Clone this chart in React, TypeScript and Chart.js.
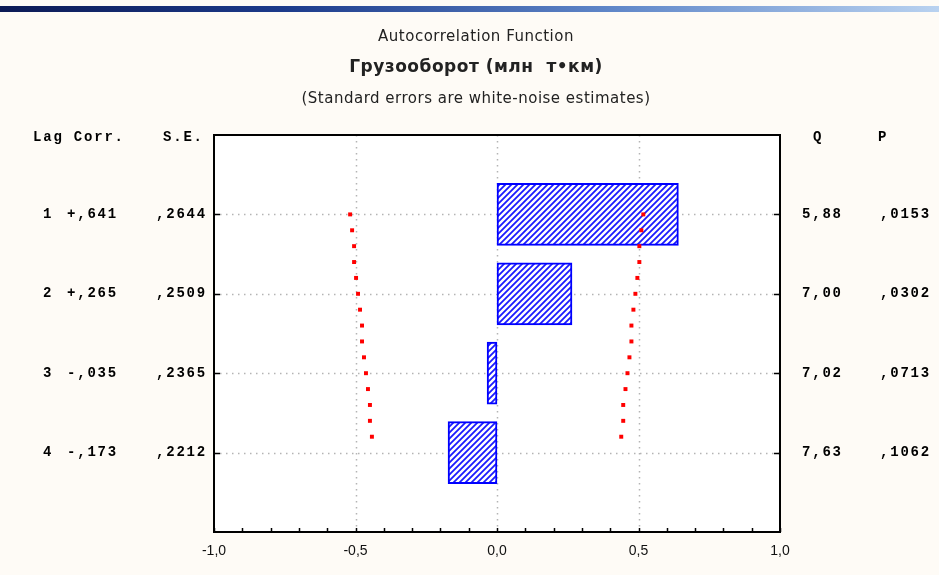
import React, { useEffect, useRef } from "react";
import { Chart, registerables } from "chart.js";
Chart.register(...registerables);

const lags = [1, 2, 3, 4];
const corr = [0.641, 0.265, -0.035, -0.173];
const stdErr = [0.2644, 0.2509, 0.2365, 0.2212];
const qStat = [5.88, 7.0, 7.02, 7.63];
const pValue = [0.0153, 0.0302, 0.0713, 0.1062];
const xTicks = [-1, -0.5, 0, 0.5, 1];
const bandLags = [1, 1.2, 1.4, 1.6, 1.8, 2, 2.2, 2.4, 2.6, 2.8, 3, 3.2, 3.4, 3.6, 3.8];
const upperBand = [0.517, 0.51, 0.503, 0.503, 0.496, 0.489, 0.482, 0.475, 0.475, 0.468, 0.461, 0.454, 0.446, 0.446, 0.439];
const lowerBand = [-0.519, -0.512, -0.505, -0.505, -0.498, -0.491, -0.484, -0.477, -0.477, -0.47, -0.463, -0.456, -0.449, -0.449, -0.442];

const titleLine1 = "Autocorrelation Function";
const titleLine2 = "Грузооборот (млн  т•км)";
const titleLine3 = "(Standard errors are white-noise estimates)";

const fmtCorr = (v: number) => (v >= 0 ? "+" : "-") + "," + Math.abs(v).toFixed(3).slice(2);
const fmtSE = (v: number) => "," + v.toFixed(4).slice(2);
const fmtQ = (v: number) => v.toFixed(2).replace(".", ",");
const fmtTick = (v: number) => v.toFixed(1).replace(".", ",");

function makePattern(): CanvasPattern | string {
  const c = document.createElement("canvas");
  c.width = 6;
  c.height = 6;
  const g = c.getContext("2d");
  if (!g) return "#8888ff";
  g.fillStyle = "#ffffff";
  g.fillRect(0, 0, 6, 6);
  g.strokeStyle = "#1a1aff";
  g.lineWidth = 1.8;
  g.beginPath();
  g.moveTo(0, 6);
  g.lineTo(6, 0);
  g.moveTo(-1, 1);
  g.lineTo(1, -1);
  g.moveTo(5, 7);
  g.lineTo(7, 5);
  g.stroke();
  const p = g.createPattern(c, "repeat");
  return p || "#8888ff";
}

const decorPlugin = {
  id: "decor",
  beforeDraw(chart: any) {
    const { ctx, chartArea: a, scales } = chart;
    const xs = scales.x;
    const ys = scales.y;
    ctx.save();
    ctx.fillStyle = "#ffffff";
    ctx.fillRect(a.left, a.top, a.right - a.left, a.bottom - a.top);
    ctx.strokeStyle = "#b4b4b4";
    ctx.lineWidth = 1.5;
    ctx.setLineDash([1.5, 4.5]);
    ctx.beginPath();
    for (const v of [-0.5, 0, 0.5]) {
      const x = Math.round(xs.getPixelForValue(v)) + 0.5;
      ctx.moveTo(x, a.top);
      ctx.lineTo(x, a.bottom);
    }
    for (const l of lags) {
      const y = Math.round(ys.getPixelForValue(l)) + 0.5;
      ctx.moveTo(a.left, y);
      ctx.lineTo(a.right, y);
    }
    ctx.stroke();
    ctx.restore();
  },
  afterDraw(chart: any) {
    const { ctx, chartArea: a, scales } = chart;
    const xs = scales.x;
    const ys = scales.y;
    ctx.save();
    // frame
    ctx.strokeStyle = "#000000";
    ctx.lineWidth = 2;
    ctx.strokeRect(a.left, a.top, a.right - a.left, a.bottom - a.top);
    ctx.lineWidth = 1.5;
    ctx.beginPath();
    for (let i = -10; i <= 10; i++) {
      const x = Math.round(xs.getPixelForValue(i / 10)) + 0.5;
      ctx.moveTo(x, a.bottom);
      ctx.lineTo(x, a.bottom - 4);
    }
    for (const l of lags) {
      const y = Math.round(ys.getPixelForValue(l)) + 0.5;
      ctx.moveTo(a.left, y);
      ctx.lineTo(a.left + 6, y);
      ctx.moveTo(a.right, y);
      ctx.lineTo(a.right - 6, y);
    }
    ctx.stroke();

    // x tick labels
    ctx.fillStyle = "#111111";
    ctx.font = '14px "Liberation Sans", Arial, sans-serif';
    ctx.textAlign = "center";
    ctx.textBaseline = "middle";
    for (const v of xTicks) {
      ctx.fillText(fmtTick(v), xs.getPixelForValue(v), 551);
    }

    // titles
    const cx = 476;
    ctx.fillStyle = "#222222";
    (ctx as any).letterSpacing = "0.5px";
    ctx.font = '15px "DejaVu Sans", sans-serif';
    ctx.fillText(titleLine1, cx, 37);
    ctx.font = 'bold 17px "DejaVu Sans", sans-serif';
    ctx.fillText(titleLine2, cx, 68);
    ctx.font = '15px "DejaVu Sans", sans-serif';
    ctx.fillText(titleLine3, cx, 99);

    // table text
    ctx.fillStyle = "#000000";
    ctx.font = 'bold 14px "Liberation Mono", "Courier New", monospace';
    (ctx as any).letterSpacing = "1.8px";
    ctx.textAlign = "left";
    const hy = 137;
    ctx.fillText("Lag Corr.", 33, hy);
    ctx.fillText("S.E.", 163, hy);
    ctx.fillText("Q", 813, hy);
    ctx.fillText("P", 878, hy);
    lags.forEach((l, i) => {
      const y = ys.getPixelForValue(l);
      ctx.fillText(String(l), 43, y);
      ctx.fillText(fmtCorr(corr[i]), 67, y);
      ctx.fillText(fmtSE(stdErr[i]), 156, y);
      ctx.fillText(fmtQ(qStat[i]), 802, y);
      ctx.fillText(fmtSE(pValue[i]), 880, y);
    });
    ctx.restore();
  },
};

export default function App() {
  const ref = useRef<HTMLCanvasElement>(null);
  useEffect(() => {
    if (!ref.current) return;
    const pattern = makePattern();
    const chart = new Chart(ref.current, {
      type: "bar",
      data: {
        datasets: [
          {
            type: "scatter" as any,
            data: bandLags.map((l, i) => ({ x: upperBand[i], y: l })),
            backgroundColor: "#ff0000",
            borderWidth: 0,
            pointStyle: "rect",
            pointRadius: 2.8,
            order: 1,
          } as any,
          {
            type: "scatter" as any,
            data: bandLags.map((l, i) => ({ x: lowerBand[i], y: l })),
            backgroundColor: "#ff0000",
            borderWidth: 0,
            pointStyle: "rect",
            pointRadius: 2.8,
            order: 1,
          } as any,
          {
            type: "bar",
            data: lags.map((l, i) => ({ x: corr[i], y: l })),
            backgroundColor: pattern as any,
            borderColor: "#0000ff",
            borderWidth: 2,
            borderSkipped: false,
            barThickness: 62,
            order: 2,
          } as any,
        ],
      },
      options: {
        indexAxis: "y",
        responsive: false,
        animation: false,
        layout: { padding: { left: 214, right: 159, top: 135, bottom: 43 } },
        plugins: { legend: { display: false }, tooltip: { enabled: false }, title: { display: false } },
        scales: {
          x: { type: "linear", min: -1, max: 1, display: false },
          y: { type: "linear", min: 0, max: 5, reverse: true, display: false, offset: false },
        },
      } as any,
      plugins: [decorPlugin],
    });
    return () => chart.destroy();
  }, []);
  return (
    <div style={{ position: "absolute", left: 0, top: 0, width: 939, height: 575, background: "#fefbf6", overflow: "hidden" }}>
      <div
        style={{
          position: "absolute",
          left: 0,
          top: 6,
          width: 939,
          height: 6,
          background: "linear-gradient(to right, #0c1a55 0%, #1c3a8a 30%, #5f86c8 65%, #b9d2f0 100%)",
        }}
      />
      <canvas ref={ref} width={939} height={575} style={{ position: "absolute", left: 0, top: 0, width: 939, height: 575 }} />
    </div>
  );
}
